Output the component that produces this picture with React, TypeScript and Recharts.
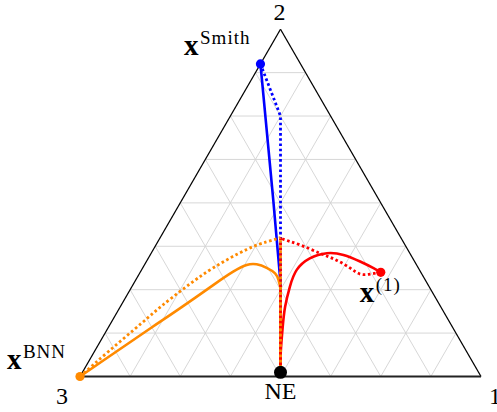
import React from 'react';
import { ScatterChart, Scatter, XAxis, YAxis, ReferenceLine, ReferenceDot } from 'recharts';

// shares of strategy 1 and 2 (strategy 3 = 1 - s1 - s2)
type Share = { s1: number; s2: number };

const V1: Share = { s1: 1, s2: 0 };
const V2: Share = { s1: 0, s2: 1 };
const V3: Share = { s1: 0, s2: 0 };
const NE: Share = { s1: 0.494, s2: 0.012 };
const X_SMITH: Share = { s1: 0, s2: 0.9 };
const X_BNN: Share = { s1: 0, s2: 0 };
const X_ONE: Share = { s1: 0.6, s2: 0.3 };
const MEET: Share = { s1: 0.3, s2: 0.4 };

const GRID_LEVELS = [0.125, 0.25, 0.375, 0.5, 0.625, 0.75, 0.875];

const blueSolid: Share[] = [X_SMITH, { s1: 0.228, s2: 0.508 }, { s1: 0.365, s2: 0.27 }, NE];
const blueDotted: Share[] = [X_SMITH, { s1: 0.125, s2: 0.75 }, MEET, NE];

const orangeSolid: Share[] = [
  X_BNN, { s1: 0.045, s2: 0.059 }, { s1: 0.108, s2: 0.141 }, { s1: 0.151, s2: 0.196 },
  { s1: 0.201, s2: 0.264 }, { s1: 0.231, s2: 0.302 }, { s1: 0.255, s2: 0.321 },
  { s1: 0.279, s2: 0.323 }, { s1: 0.309, s2: 0.313 }, { s1: 0.338, s2: 0.297 },
  { s1: 0.356, s2: 0.278 }, { s1: 0.373, s2: 0.254 },
];
const orangeSolidTail: Share[] = [{ s1: 0.373, s2: 0.254 }, NE];

const orangeDotted: Share[] = [
  X_BNN, { s1: 0.035, s2: 0.072 }, { s1: 0.077, s2: 0.154 }, { s1: 0.102, s2: 0.203 },
  { s1: 0.134, s2: 0.256 }, { s1: 0.176, s2: 0.313 }, { s1: 0.233, s2: 0.366 },
  { s1: 0.272, s2: 0.388 }, MEET,
];
const orangeDottedTail: Share[] = [MEET, NE];

const redSolid: Share[] = [
  X_ONE, { s1: 0.576, s2: 0.312 }, { s1: 0.533, s2: 0.331 }, { s1: 0.482, s2: 0.35 },
  { s1: 0.438, s2: 0.355 }, { s1: 0.403, s2: 0.34 }, { s1: 0.387, s2: 0.307 },
  { s1: 0.394, s2: 0.259 }, { s1: 0.411, s2: 0.201 }, { s1: 0.434, s2: 0.143 },
  { s1: 0.467, s2: 0.067 }, NE,
];

const redDotted: Share[] = [
  X_ONE, { s1: 0.576, s2: 0.295 }, { s1: 0.551, s2: 0.295 }, { s1: 0.518, s2: 0.312 },
  { s1: 0.472, s2: 0.335 }, { s1: 0.421, s2: 0.355 }, { s1: 0.359, s2: 0.379 },
  { s1: 0.31, s2: 0.395 }, MEET,
];
const redDottedTail: Share[] = [MEET, NE];

const H = Math.sqrt(3) / 2;
const toXY = (p: Share) => ({ x: p.s1 + p.s2 / 2, y: p.s2 * H });

const BLUE = '#0000ff';
const RED = '#ff0000';
const ORANGE = '#ff8a00';
const FONT = "'Liberation Serif', 'Times New Roman', serif";

const trajectory = (
  key: string,
  pts: Share[],
  color: string,
  dotted: boolean,
  joint: 'linear' | 'natural',
  offset = 0
) => (
  <Scatter
    key={key}
    data={pts.map(toXY)}
    fill={color}
    line={{
      stroke: color,
      strokeWidth: dotted ? 2.8 : 2.6,
      strokeDasharray: dotted ? '2.6 2.6' : undefined,
      strokeDashoffset: offset,
    }}
    lineJointType={joint}
    shape={() => <g />}
    isAnimationActive={false}
  />
);

const segments: [Share, Share][] = [];
GRID_LEVELS.forEach((t) => {
  segments.push([{ s1: 0, s2: t }, { s1: 1 - t, s2: t }]);
  segments.push([{ s1: t, s2: 0 }, { s1: t, s2: 1 - t }]);
  segments.push([{ s1: 1 - t, s2: 0 }, { s1: 0, s2: 1 - t }]);
});

const textLabel = (dx: number, dy: number, text: string, anchor = 'middle') => (props: any) => (
  <text x={props.cx + dx} y={props.cy + dy} textAnchor={anchor} fontFamily={FONT} fontSize={24} fill="#000">
    {text}
  </text>
);

const supLabel = (dx: number, dy: number, sup: string, anchor: string) => (props: any) => (
  <text x={props.cx + dx} y={props.cy + dy} textAnchor={anchor} fontFamily={FONT} fill="#000">
    <tspan fontSize={29} fontWeight="bold">x</tspan>
    <tspan fontSize={19} dy={-11} dx={1.5} letterSpacing={1}>{sup}</tspan>
  </text>
);

export default function App() {
  return (
    <div style={{ position: 'absolute', left: 0, top: 0 }}>
      <ScatterChart width={497} height={412} margin={{ top: 0, right: 0, bottom: 0, left: 0 }}>
        <XAxis type="number" dataKey="x" domain={[-80 / 401, 417 / 401]} allowDataOverflow hide />
        <YAxis type="number" dataKey="y" domain={[376.5 / 401 - 412 / 401, 376.5 / 401]} allowDataOverflow hide />
        {segments.map(([a, b], i) => (
          <ReferenceLine key={'g' + i} segment={[toXY(a), toXY(b)]} stroke="#d2d2d2" strokeWidth={0.9} ifOverflow="visible" />
        ))}
        <ReferenceLine segment={[toXY(V3), toXY(V2)]} stroke="#000" strokeWidth={1.3} ifOverflow="visible" />
        <ReferenceLine segment={[toXY(V2), toXY(V1)]} stroke="#000" strokeWidth={1.3} ifOverflow="visible" />
        <ReferenceLine segment={[toXY(V3), toXY(V1)]} stroke="#222" strokeWidth={2} ifOverflow="visible" />

        {trajectory('bs', blueSolid, BLUE, false, 'linear')}
        {trajectory('bd', blueDotted, BLUE, true, 'linear')}
        {trajectory('os', orangeSolid, ORANGE, false, 'natural')}
        {trajectory('ost', orangeSolidTail, ORANGE, false, 'linear')}
        {trajectory('rs', redSolid, RED, false, 'natural')}
        {trajectory('rd', redDotted, RED, true, 'natural')}
        {trajectory('rdt', redDottedTail, RED, true, 'linear')}
        {trajectory('od', orangeDotted, ORANGE, true, 'natural')}
        {trajectory('odt', orangeDottedTail, ORANGE, true, 'linear', 2.6)}

        <ReferenceDot {...toXY(X_SMITH)} r={4.6} fill={BLUE} stroke={BLUE} strokeWidth={0} />
        <ReferenceDot {...toXY(X_BNN)} r={4.6} fill={ORANGE} stroke={ORANGE} strokeWidth={0} />
        <ReferenceDot {...toXY(X_ONE)} r={4.6} fill={RED} stroke={RED} strokeWidth={0} />
        <ReferenceDot {...toXY(NE)} r={6.5} fill="#000" stroke="#000" strokeWidth={0} />

        <ReferenceDot {...toXY(V2)} r={0} shape={textLabel(-1, -9, '2')} />
        <ReferenceDot {...toXY(V3)} r={0} shape={textLabel(-18, 27, '3')} />
        <ReferenceDot {...toXY(V1)} r={0} shape={textLabel(14, 27, '1')} />
        <ReferenceDot {...toXY(NE)} r={0} shape={textLabel(0, 27, 'NE')} />
        <ReferenceDot {...toXY(X_SMITH)} r={0} shape={supLabel(-10, -9, 'Smith', 'end')} />
        <ReferenceDot {...toXY(X_BNN)} r={0} shape={supLabel(-14, -7.5, 'BNN', 'end')} />
        <ReferenceDot {...toXY(X_ONE)} r={0} shape={supLabel(-21, 30, '(1)', 'start')} />
      </ScatterChart>
    </div>
  );
}
